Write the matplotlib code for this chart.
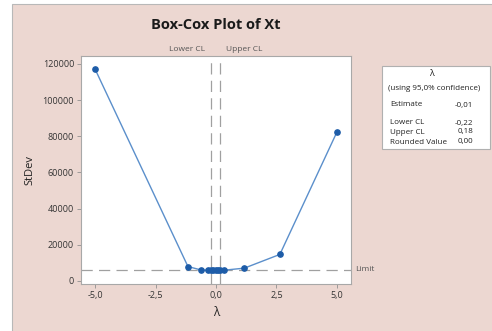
import numpy as np
import matplotlib.pyplot as plt
from matplotlib.patches import Rectangle

plt.rcParams['font.family'] = ['Open Sans', 'DejaVu Sans']

# Box-Cox profile: lambda vs standard deviation of transformed data
lambdas = [-5.0, -1.16, -0.62, -0.33, -0.22, -0.11, -0.01, 0.09, 0.18, 0.32, 1.17, 2.64, 5.0]
stdev = [117200, 8000, 6100, 5950, 5900, 5880, 5870, 5880, 5900, 5960, 7100, 14700, 82400]

limit = 6200
lower_cl = -0.22
upper_cl = 0.18
estimate = -0.01
rounded = 0.00

xticks = [-5.0, -2.5, 0.0, 2.5, 5.0]
yticks = [0, 20000, 40000, 60000, 80000, 100000, 120000]

pink = '#ecd7d1'
grey = '#a0a0a0'

fig = plt.figure(figsize=(4.92, 3.31), dpi=100)
fig.patch.set_facecolor('white')
fig.patches.append(Rectangle((12/492, -0.01), 1.0, 1 - 4/331 + 0.01, transform=fig.transFigure,
                             facecolor=pink, edgecolor='#b8b8b8', linewidth=0.8, zorder=-10))

ax = fig.add_axes([81/492, 1 - 284/331, 270/492, 228/331])
ax.set_facecolor('white')

ax.plot(lambdas, stdev, color='#5b8fcb', linewidth=1.0, zorder=3)
ax.plot(lambdas, stdev, linestyle='none', marker='o', markersize=3.8,
        color='#1d5ca8', zorder=4)

ax.axhline(limit, color=grey, linestyle=(0, (9, 5)), linewidth=0.9, zorder=2)
for v in (lower_cl, upper_cl):
    ax.axvline(v, color=grey, linestyle=(0, (9, 5)), linewidth=0.9, zorder=2)

ax.set_xlim(-5.58, 5.58)
ax.set_ylim(-1660, 124400)
ax.set_xticks(xticks)
ax.set_xticklabels([f'{t:.1f}'.replace('.', ',') for t in xticks])
ax.set_yticks(yticks)
ax.set_yticklabels([str(t) for t in yticks])
ax.tick_params(direction='out', length=3, width=0.6, color='#909090',
               labelsize=6.5, labelcolor='#333333', pad=2)
for s in ax.spines.values():
    s.set_color('#a8a8a8')
    s.set_linewidth(0.8)

ax.set_xlabel('λ', fontsize=8.5, color='#222222', labelpad=4)
ax.set_ylabel('StDev', fontsize=8, color='#222222', labelpad=5)

fig.text(216/492, 1 - 25/331, 'Box-Cox Plot of Xt', ha='center', va='center',
         fontsize=10.5, fontweight='bold', color='#1a1a1a')

# confidence limit labels above the axes
ax.text(lower_cl - 0.25, 1.012, 'Lower CL', transform=ax.get_xaxis_transform(),
        ha='right', va='bottom', fontsize=6, color='#555555')
ax.text(upper_cl + 0.25, 1.012, 'Upper CL', transform=ax.get_xaxis_transform(),
        ha='left', va='bottom', fontsize=6, color='#555555')
ax.text(1.015, limit, 'Limit', transform=ax.get_yaxis_transform(),
        ha='left', va='center', fontsize=6, color='#555555')

# summary box
fig.patches.append(Rectangle((382/492, 1 - 149/331), 108/492, 83/331, transform=fig.transFigure,
                             facecolor='white', edgecolor='#b0b0b0', linewidth=0.8, zorder=5))
fig.text(431/492, 1 - 74/331, 'λ', ha='center', va='center', fontsize=6.5, color='#222222', zorder=6)
fig.text(434/492, 1 - 89/331, '(using 95,0% confidence)', ha='center', va='center',
         fontsize=5.8, color='#222222', zorder=6)
rows = [('Estimate', estimate, 105), ('Lower CL', lower_cl, 123),
        ('Upper CL', upper_cl, 132), ('Rounded Value', rounded, 142)]
for name, val, y in rows:
    fig.text(390/492, 1 - y/331, name, ha='left', va='center', fontsize=5.8, color='#222222', zorder=6)
    fig.text(473/492, 1 - y/331, f'{val:.2f}'.replace('.', ','), ha='right', va='center',
             fontsize=5.8, color='#222222', zorder=6)

fig.savefig('out.png', dpi=100, facecolor=fig.get_facecolor())
